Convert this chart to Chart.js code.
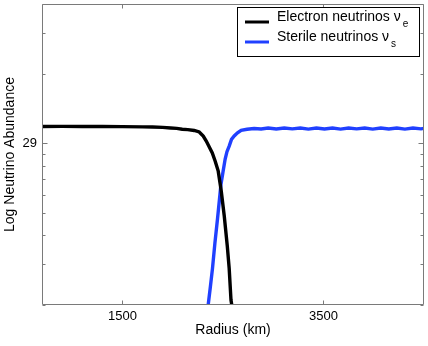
<!DOCTYPE html>
<html><head><meta charset="utf-8">
<script src="https://cdn.jsdelivr.net/npm/chart.js@4"></script>
<style>html,body{margin:0;padding:0;background:#fff;}</style>
</head><body>
<canvas id="c" width="428" height="346"></canvas>
<script>
// ---- data ----
const radiusElectron = [700, 900, 1100, 1300, 1500, 1700, 1800, 1900, 1980, 2040, 2095, 2150, 2214, 2264, 2304, 2334, 2364, 2394, 2423, 2453, 2483, 2513, 2543, 2562, 2580, 2600];
const abundElectron  = [1.181e29, 1.183e29, 1.181e29, 1.182e29, 1.180e29, 1.178e29, 1.176e29, 1.172e29, 1.165e29, 1.160e29, 1.150e29, 1.146e29, 1.136e29, 1.119e29, 1.075e29, 1.023e29, 9.64e28, 9.08e28, 8.37e28, 7.58e28, 6.22e28, 4.85e28, 3.60e28, 2.88e28, 2.10e28, 1.85e28];
const radiusSterile  = [2350, 2375, 2396, 2420, 2446, 2465, 2480, 2500, 2522, 2540, 2562, 2585, 2612, 2645, 2681, 2740, 2810, 2880, 2950, 3030, 3110, 3190, 3270, 3350, 3430, 3510, 3590, 3670, 3750, 3830, 3910, 3990, 4070, 4150, 4230, 4310, 4390, 4470, 4500];
const abundSterile   = [1.95e28, 2.40e28, 2.88e28, 3.70e28, 4.72e28, 5.70e28, 6.63e28, 7.50e28, 8.55e28, 9.20e28, 9.73e28, 1.040e29, 1.075e29, 1.110e29, 1.138e29, 1.150e29, 1.159e29, 1.153e29, 1.164e29, 1.153e29, 1.165e29, 1.154e29, 1.164e29, 1.152e29, 1.165e29, 1.153e29, 1.164e29, 1.152e29, 1.165e29, 1.154e29, 1.164e29, 1.152e29, 1.165e29, 1.153e29, 1.164e29, 1.152e29, 1.165e29, 1.154e29, 1.160e29];
const seriesNames = ['Electron neutrinos \u03bd', 'Sterile neutrinos \u03bd'];
const seriesSubs  = ['e', 's'];
const xTickValues = [1500, 3500];
const yLabelTicks = [1e29];
const yMinorTicks = [2e28, 3e28, 4e28, 5e28, 6e28, 7e28, 8e28, 9e28, 2e29, 3e29, 4e29];
const xRange = [700, 4500];
const yRange = [2e28, 4e29];

const FONT = '"Liberation Sans", Arial, Helvetica, sans-serif';
const COLORS = ['#000000', '#2040ff'];

const toPts = (xs, ys) => xs.map((x, i) => ({x: x, y: ys[i]}));

const axesPlugin = {
  id: 'matlabAxes',
  afterDatasetsDraw(chart) {
    const {ctx, chartArea: a, scales: {x, y}} = chart;
    const L = Math.round(a.left) + 0.5, R = Math.round(a.right) - 0.5;
    const T = Math.round(a.top) + 0.5, B = Math.round(a.bottom) - 0.5;
    ctx.save();
    ctx.strokeStyle = '#7a7a7a';
    ctx.lineWidth = 1;
    ctx.beginPath();
    ctx.rect(L, T, R - L, B - T);
    xTickValues.forEach(v => {
      const px = Math.round(x.getPixelForValue(v)) + 0.5;
      ctx.moveTo(px, B); ctx.lineTo(px, B - 4);
      ctx.moveTo(px, T); ctx.lineTo(px, T + 4);
    });
    const yt = (v, len) => {
      const py = Math.round(y.getPixelForValue(v)) + 0.5;
      ctx.moveTo(L, py); ctx.lineTo(L + len, py);
      ctx.moveTo(R, py); ctx.lineTo(R - len, py);
    };
    yMinorTicks.forEach(v => yt(v, 3));
    yLabelTicks.forEach(v => yt(v, 5));
    ctx.stroke();
    ctx.restore();
  },
  afterDraw(chart) {
    const {ctx} = chart;
    ctx.save();
    ctx.fillStyle = '#fff';
    ctx.fillRect(237, 7, 182, 50);
    ctx.strokeStyle = '#000';
    ctx.lineWidth = 1;
    ctx.strokeRect(237.5, 7.5, 182, 49);
    const rows = [22, 42];
    rows.forEach((ry, i) => {
      ctx.strokeStyle = COLORS[i];
      ctx.lineWidth = 3;
      ctx.beginPath();
      ctx.moveTo(245, ry); ctx.lineTo(269, ry);
      ctx.stroke();
      ctx.fillStyle = '#000';
      ctx.font = '14px ' + FONT;
      ctx.textBaseline = 'alphabetic';
      ctx.textAlign = 'left';
      const base = ry - 1;
      ctx.fillText(seriesNames[i], 277, base);
      const w = ctx.measureText(seriesNames[i]).width;
      ctx.font = '10px ' + FONT;
      ctx.fillText(seriesSubs[i], 277 + w + 2, base + 6);
    });
    ctx.restore();
  }
};

new Chart(document.getElementById('c'), {
  type: 'line',
  data: {
    datasets: [
      {label: seriesNames[0] + seriesSubs[0], data: toPts(radiusElectron, abundElectron), borderColor: COLORS[0], borderWidth: 3.4, pointRadius: 0, tension: 0, fill: false},
      {label: seriesNames[1] + seriesSubs[1], data: toPts(radiusSterile, abundSterile), borderColor: COLORS[1], borderWidth: 3.4, pointRadius: 0, tension: 0, fill: false}
    ]
  },
  options: {
    responsive: false,
    animation: false,
    devicePixelRatio: 1,
    layout: {padding: {top: 4, right: 4, left: 0, bottom: 0}},
    plugins: {legend: {display: false}, tooltip: {enabled: false}},
    scales: {
      x: {
        type: 'linear', min: xRange[0], max: xRange[1],
        afterBuildTicks: s => { s.ticks = xTickValues.map(v => ({value: v})); },
        afterFit: s => { s.height = 41; s.paddingLeft = 0; s.paddingRight = 0; },
        grid: {display: false, drawTicks: false}, border: {display: false},
        ticks: {color: '#000', font: {family: FONT, size: 13}, padding: 4, maxRotation: 0, callback: v => String(v)},
        title: {display: true, text: 'Radius (km)', color: '#000', font: {family: FONT, size: 14}, padding: {top: 0, bottom: 7}}
      },
      y: {
        type: 'logarithmic', min: yRange[0], max: yRange[1],
        afterBuildTicks: s => { s.ticks = yLabelTicks.map(v => ({value: v})); },
        afterFit: s => { s.width = 42; s.paddingTop = 0; s.paddingBottom = 0; },
        grid: {display: false, drawTicks: false}, border: {display: false},
        ticks: {color: '#000', font: {family: FONT, size: 13}, padding: 5, callback: v => String(Math.round(Math.log10(v)))},
        title: {display: true, text: 'Log Neutrino Abundance', color: '#000', font: {family: FONT, size: 14}, padding: {top: 2, bottom: 0}}
      }
    }
  },
  plugins: [axesPlugin]
});
</script>
</body></html>
